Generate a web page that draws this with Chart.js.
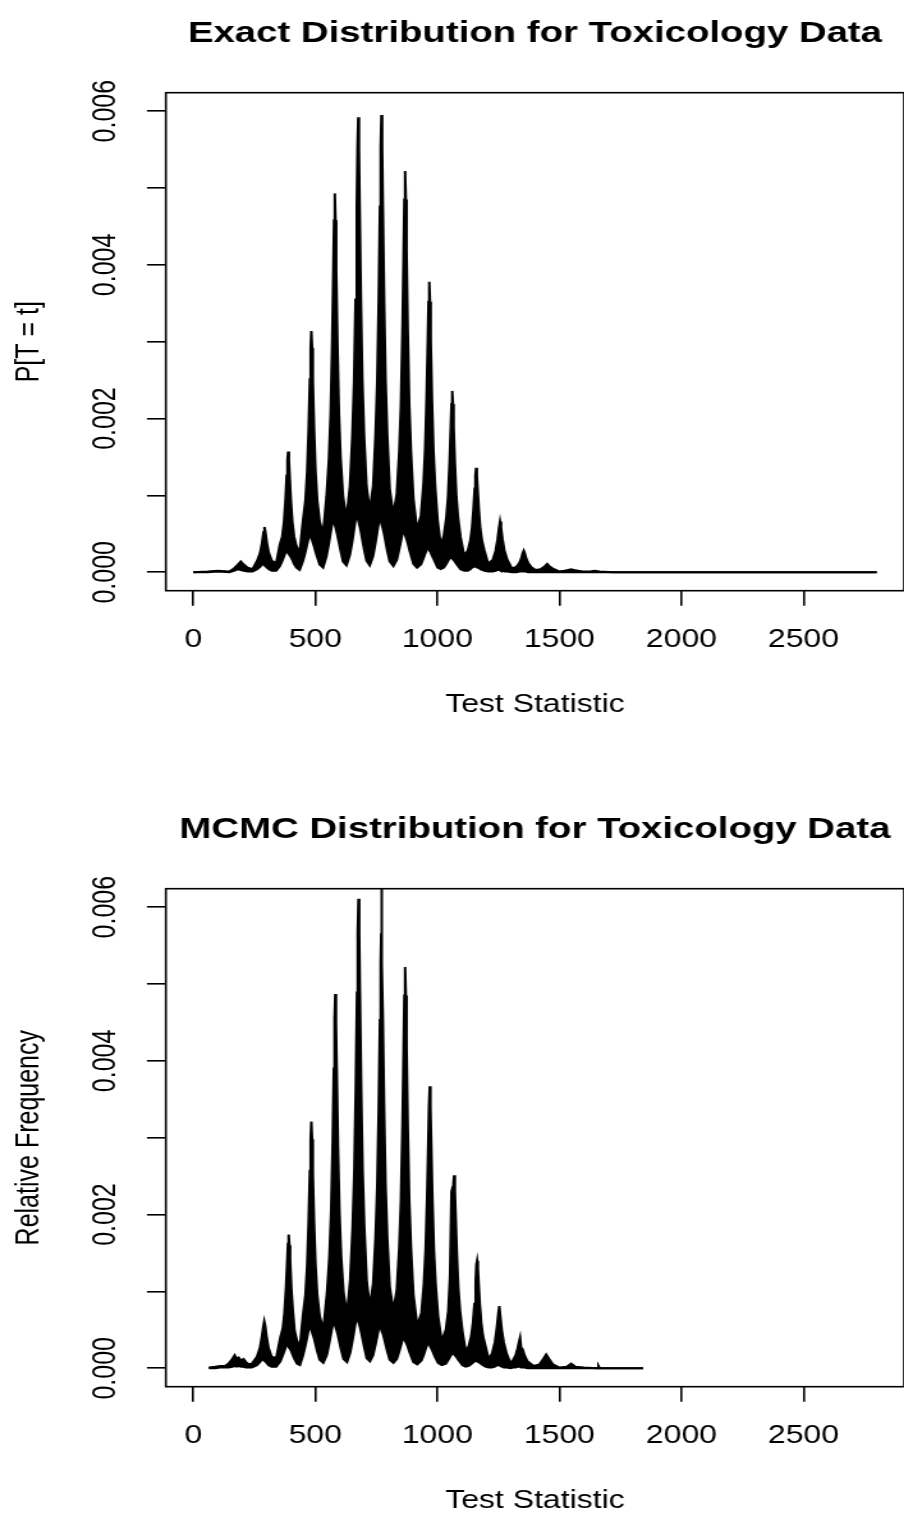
<!DOCTYPE html>
<html>
<head>
<meta charset="utf-8">
<title>Toxicology Data</title>
<script src="https://cdn.jsdelivr.net/npm/chart.js@4.4.1/dist/chart.umd.min.js"></script>
<style>
  html, body { margin: 0; padding: 0; background: #fff; overflow: hidden; }
  body { width: 904px; height: 1516px; position: relative; }
  /* the reference is stretched sideways, so each panel is drawn narrow and widened */
  .panel { position: absolute; left: 0; width: 707px; height: 796px; transform: scaleX(1.2787); transform-origin: 0 0; }
</style>
</head>
<body>
<div class="panel" style="top:0"><canvas id="exactChart" width="707" height="796"></canvas></div>
<div class="panel" style="top:796px"><canvas id="mcmcChart" width="707" height="796"></canvas></div>

<script>
// Axes
const xTickValues = [0, 500, 1000, 1500, 2000, 2500];
const xTickLabels = ['0', '500', '1000', '1500', '2000', '2500'];
const yTickValues = [0, 0.001, 0.002, 0.003, 0.004, 0.005, 0.006];
const yTickLabels = ['0.000', '', '0.002', '', '0.004', '', '0.006'];

// Exact distribution: test statistic, top and bottom of the dense band
const exactT = [
  0, 60, 100, 148,
  167, 183, 195, 207, 223, 243,
  262, 274, 282, 288, 292, 296, 302, 310, 322, 340,
  355, 365, 372, 378, 383, 386, 389, 392, 395, 400, 406, 413, 423, 436,
  450, 460, 467, 473, 478, 481, 484, 487, 490, 495, 501, 508, 518, 532,
  546, 556, 563, 569, 574, 577, 580, 583, 586, 591, 597, 604, 614, 628,
  642, 652, 659, 665, 670, 673, 676, 679, 682, 687, 693, 700, 710, 723,
  737, 747, 754, 760, 765, 768, 771, 774, 777, 782, 788, 795, 805, 820,
  834, 844, 851, 857, 862, 865, 868, 871, 874, 879, 885, 892, 902, 917,
  933, 943, 950, 956, 961, 964, 967, 970, 973, 978, 984, 991, 1001, 1014,
  1027, 1037, 1044, 1050, 1055, 1058, 1061, 1064, 1067, 1072, 1078, 1085, 1095, 1110,
  1125, 1135, 1142, 1148, 1153, 1156, 1159, 1162, 1165, 1170, 1176, 1183, 1193, 1208,
  1227, 1239, 1247, 1253, 1257, 1261, 1267, 1275, 1287, 1305,
  1324, 1336, 1344, 1350, 1354, 1358, 1364, 1372, 1384, 1402,
  1422, 1438, 1450, 1462, 1478, 1499,
  1520, 1536, 1548, 1560, 1576, 1596,
  1625, 1645, 1665, 1720, 1800, 2800
];
const exactHigh = [
  0, 0.00001, 0.00002, 0.00001,
  0.00005, 0.0001, 0.00014, 0.0001, 0.00006, 0.00004,
  0.00015, 0.00025, 0.00038, 0.00052, 0.00059, 0.00052, 0.00038, 0.00025, 0.00015, 0.00012,
  0.00036, 0.00047, 0.00066, 0.00094, 0.00126, 0.00146, 0.00157, 0.00146, 0.00126, 0.00094, 0.00066, 0.00047, 0.00034, 0.00025,
  0.00068, 0.00094, 0.00132, 0.00188, 0.00251, 0.00292, 0.00314, 0.00292, 0.00251, 0.00188, 0.00132, 0.00094, 0.00066, 0.0005,
  0.00098, 0.00148, 0.00207, 0.00296, 0.00394, 0.00458, 0.00493, 0.00458, 0.00394, 0.00296, 0.00207, 0.00148, 0.00098, 0.0007,
  0.00112, 0.00178, 0.00249, 0.00355, 0.00474, 0.00551, 0.00592, 0.00551, 0.00474, 0.00355, 0.00249, 0.00178, 0.00112, 0.0008,
  0.00112, 0.00179, 0.0025, 0.00357, 0.00476, 0.00553, 0.00595, 0.00553, 0.00476, 0.00357, 0.0025, 0.00179, 0.00108, 0.00075,
  0.00102, 0.00157, 0.00219, 0.00313, 0.00418, 0.00485, 0.00522, 0.00485, 0.00418, 0.00313, 0.00219, 0.00157, 0.00096, 0.00055,
  0.00074, 0.00113, 0.00159, 0.00227, 0.00302, 0.00352, 0.00378, 0.00352, 0.00302, 0.00227, 0.00159, 0.00113, 0.00068, 0.00035,
  0.00048, 0.00071, 0.00099, 0.00142, 0.00189, 0.00219, 0.00236, 0.00219, 0.00189, 0.00142, 0.00099, 0.00071, 0.00046, 0.00022,
  0.00028, 0.00041, 0.00057, 0.00082, 0.00109, 0.00126, 0.00136, 0.00126, 0.00109, 0.00082, 0.00057, 0.00041, 0.00028, 0.00011,
  0.00016, 0.00028, 0.00043, 0.00058, 0.00066, 0.00058, 0.00043, 0.00028, 0.00016, 0.00005,
  0.00007, 0.00012, 0.00018, 0.00025, 0.00028, 0.00025, 0.00018, 0.00012, 0.00007, 0.00003,
  0.00004, 0.00007, 0.00011, 0.00007, 0.00004, 0.00001,
  0.00002, 0.00003, 0.00004, 0.00003, 0.00002, 0.00001,
  0.00001, 0.00002, 0.00001, 0, 0, 0
];
const exactLow = [
  0, 0, 0.00001, 0,
  0.00002, 0.00004, 0.00003, 0.00002, 0.00001, 0.00001,
  0.00004, 0.00007, 0.0001, 0.0001, 0.00009, 0.00008, 0.00006, 0.00004, 0.00002, 0.00002,
  0.00008, 0.00015, 0.00021, 0.00026, 0.00027, 0.00027, 0.00025, 0.00024, 0.00022, 0.0002, 0.00016, 0.00011, 0.00006, 0.00003,
  0.00015, 0.00027, 0.00037, 0.00045, 0.00048, 0.00047, 0.00044, 0.00042, 0.00039, 0.00034, 0.00027, 0.0002, 0.0001, 0.00006,
  0.00021, 0.00038, 0.00052, 0.00063, 0.00068, 0.00066, 0.00062, 0.00059, 0.00055, 0.00048, 0.00039, 0.00028, 0.00014, 0.00009,
  0.00023, 0.00041, 0.00056, 0.00069, 0.00074, 0.00071, 0.00068, 0.00064, 0.0006, 0.00053, 0.00042, 0.0003, 0.00015, 0.00009,
  0.00021, 0.00039, 0.00053, 0.00065, 0.0007, 0.00067, 0.00064, 0.0006, 0.00057, 0.0005, 0.0004, 0.00028, 0.00014, 0.00008,
  0.00016, 0.0003, 0.00041, 0.0005, 0.00053, 0.00051, 0.00049, 0.00046, 0.00043, 0.00038, 0.0003, 0.00022, 0.00011, 0.00006,
  0.0001, 0.00018, 0.00024, 0.00029, 0.00031, 0.0003, 0.00029, 0.00027, 0.00026, 0.00022, 0.00018, 0.00013, 0.00006, 0.00004,
  0.00006, 0.00011, 0.00015, 0.00018, 0.00019, 0.00019, 0.00018, 0.00017, 0.00016, 0.00014, 0.00011, 0.00008, 0.00004, 0.00002,
  0.00002, 0.00004, 0.00006, 0.00007, 0.00008, 0.00008, 0.00007, 0.00007, 0.00006, 0.00006, 0.00004, 0.00003, 0.00002, 0.00001,
  0.00001, 0.00002, 0.00003, 0.00003, 0.00003, 0.00002, 0.00002, 0.00001, 0.00001, 0,
  0, 0.00001, 0.00001, 0.00001, 0.00001, 0.00001, 0.00001, 0, 0, 0,
  0, 0, 0, 0, 0, 0,
  0, 0, 0, 0, 0, 0,
  0, 0, 0, 0, 0, 0
];

// MCMC distribution: test statistic, top and bottom of the dense band
const mcmcT = [
  64, 90, 110, 130, 145, 160, 170, 178, 186, 196, 206, 216, 228, 240,
  261, 273, 281, 287, 291, 295, 301, 309, 321, 340,
  357, 367, 374, 380, 385, 388, 391, 394, 397, 402, 408, 415, 425, 437,
  450, 460, 467, 473, 478, 481, 484, 487, 490, 495, 501, 508, 518, 533,
  548, 558, 565, 571, 576, 579, 582, 585, 588, 593, 599, 606, 616, 630,
  643, 653, 660, 666, 671, 674, 677, 680, 683, 688, 694, 701, 711, 724,
  737, 747, 754, 760, 765, 768, 770, 771, 772, 774, 777, 782, 788, 795, 805, 820,
  834, 844, 851, 857, 862, 865, 868, 871, 874, 879, 885, 892, 902, 918,
  935, 945, 952, 958, 963, 966, 969, 972, 975, 980, 986, 993, 1003, 1018,
  1035, 1045, 1052, 1058, 1063, 1066, 1069, 1072, 1075, 1080, 1086, 1093, 1103, 1116,
  1129, 1139, 1146, 1152, 1157, 1160, 1163, 1166, 1169, 1174, 1180, 1187, 1197, 1210,
  1224, 1236, 1244, 1250, 1254, 1258, 1264, 1272, 1284, 1300,
  1309, 1321, 1329, 1335, 1339, 1343, 1349, 1357, 1369, 1395,
  1418, 1434, 1446, 1458, 1474, 1500,
  1530, 1548, 1566, 1600, 1655, 1660, 1665, 1750, 1843
];
const mcmcHigh = [
  0.00001, 0.00002, 0.00003, 0.00003, 0.00006, 0.00012, 0.00017, 0.00012, 0.00014, 0.0001, 0.00012, 0.00008, 0.00005, 0.00006,
  0.00015, 0.00026, 0.0004, 0.00054, 0.00061, 0.00055, 0.0004, 0.00026, 0.00015, 0.00013,
  0.0004, 0.00052, 0.00073, 0.00104, 0.00139, 0.00162, 0.00174, 0.0016, 0.00142, 0.00104, 0.00075, 0.0005, 0.00036, 0.00028,
  0.0007, 0.00096, 0.00135, 0.00193, 0.00257, 0.00298, 0.00321, 0.00298, 0.00255, 0.0019, 0.00135, 0.00096, 0.00068, 0.0005,
  0.00098, 0.00146, 0.00205, 0.00292, 0.0039, 0.00455, 0.00487, 0.0045, 0.0039, 0.0029, 0.00205, 0.00146, 0.00098, 0.0007,
  0.00115, 0.00183, 0.00257, 0.00367, 0.00489, 0.00568, 0.00611, 0.00568, 0.00489, 0.00367, 0.00257, 0.00183, 0.00112, 0.0008,
  0.0011, 0.0017, 0.00238, 0.0034, 0.00453, 0.00526, 0.00566, 0.0064, 0.00566, 0.00526, 0.00453, 0.0034, 0.00238, 0.0017, 0.00106, 0.00075,
  0.00102, 0.00157, 0.00219, 0.00313, 0.00418, 0.00485, 0.00522, 0.00485, 0.00418, 0.00313, 0.00219, 0.00157, 0.00096, 0.00055,
  0.00072, 0.0011, 0.00154, 0.0022, 0.00294, 0.00341, 0.00367, 0.0034, 0.00294, 0.0022, 0.00154, 0.0011, 0.00068, 0.00035,
  0.0005, 0.00075, 0.0012, 0.0023, 0.00236, 0.0024, 0.00251, 0.0023, 0.002, 0.0015, 0.00105, 0.00075, 0.00048, 0.00022,
  0.00029, 0.00042, 0.00059, 0.00084, 0.00112, 0.00135, 0.0014, 0.0013, 0.00112, 0.00084, 0.00059, 0.00042, 0.00029, 0.00012,
  0.00019, 0.00034, 0.00053, 0.00071, 0.00081, 0.00068, 0.0005, 0.00034, 0.00019, 0.00006,
  0.0001, 0.00017, 0.00026, 0.00035, 0.0004, 0.00027, 0.00025, 0.00017, 0.00009, 0.00003,
  0.00005, 0.00012, 0.00018, 0.00012, 0.00005, 0.00001,
  0.00002, 0.00006, 0.00002, 0.00001, 0, 0.00003, 0, 0, 0
];
const mcmcLow = [
  0, 0, 0.00001, 0.00001, 0.00001, 0.00002, 0.00003, 0.00002, 0.00003, 0.00002, 0.00002, 0.00001, 0.00001, 0.00001,
  0.00004, 0.00008, 0.00011, 0.00012, 0.0001, 0.00009, 0.00007, 0.00004, 0.00002, 0.00002,
  0.00009, 0.00017, 0.00023, 0.00029, 0.0003, 0.00029, 0.00028, 0.00026, 0.00025, 0.00022, 0.00017, 0.00012, 0.00006, 0.00004,
  0.00017, 0.0003, 0.00041, 0.00051, 0.00054, 0.00052, 0.0005, 0.00047, 0.00044, 0.00039, 0.00031, 0.00022, 0.00011, 0.00007,
  0.00018, 0.00034, 0.00046, 0.00056, 0.0006, 0.00058, 0.00055, 0.00052, 0.00049, 0.00043, 0.00034, 0.00024, 0.00012, 0.00008,
  0.0002, 0.00037, 0.0005, 0.00062, 0.00066, 0.00064, 0.0006, 0.00057, 0.00054, 0.00047, 0.00038, 0.00027, 0.00013, 0.00009,
  0.00017, 0.00031, 0.00042, 0.00052, 0.00055, 0.00053, 0.00051, 0.0005, 0.0005, 0.00048, 0.00045, 0.00039, 0.00031, 0.00022, 0.00011, 0.00007,
  0.00012, 0.00022, 0.0003, 0.00037, 0.00039, 0.00038, 0.00036, 0.00034, 0.00032, 0.00028, 0.00022, 0.00016, 0.00008, 0.00005,
  0.0001, 0.00018, 0.00025, 0.0003, 0.00032, 0.00031, 0.0003, 0.00028, 0.00026, 0.00023, 0.00018, 0.00013, 0.00007, 0.00004,
  0.00006, 0.00011, 0.00015, 0.00018, 0.0002, 0.00019, 0.00018, 0.00017, 0.00016, 0.00014, 0.00011, 0.00008, 0.00004, 0.00002,
  0.00003, 0.000055, 0.000075, 0.00009, 0.0001, 0.000095, 0.00009, 0.000085, 0.00008, 0.00007, 0.000055, 0.00004, 0.00002, 0.00001,
  0.00001, 0.00002, 0.00004, 0.00004, 0.00004, 0.00003, 0.00002, 0.00001, 0.00001, 0,
  0.00001, 0.00001, 0.00002, 0.00002, 0.00002, 0.00001, 0.00001, 0.00001, 0, 0,
  0, 0, 0, 0, 0, 0,
  0, 0, 0, 0, 0, 0, 0, 0, 0
];

Chart.defaults.font.family = "'Liberation Sans', Arial, Helvetica, sans-serif";
Chart.defaults.color = '#000';

// Cadre du graphique, comme en R
const boxPlugin = {
  id: 'plotBox',
  afterDraw(chart) {
    const { ctx, chartArea: a } = chart;
    ctx.save();
    ctx.strokeStyle = '#000';
    ctx.lineWidth = 1.6;
    ctx.strokeRect(a.left, a.top, a.right - a.left, a.bottom - a.top);
    ctx.restore();
  }
};

function makeChart(canvasId, titleText, yTitle, tValues, highValues, lowValues) {
  const ctx = document.getElementById(canvasId).getContext('2d');
  return new Chart(ctx, {
    type: 'line',
    data: {
      datasets: [
        {
          data: tValues.map((t, i) => ({ x: t, y: highValues[i] })),
          borderColor: '#000',
          backgroundColor: '#000',
          borderWidth: 2,
          pointRadius: 0,
          tension: 0,
          fill: '+1'
        },
        {
          data: tValues.map((t, i) => ({ x: t, y: lowValues[i] })),
          borderColor: '#000',
          borderWidth: 2,
          pointRadius: 0,
          tension: 0,
          fill: false
        }
      ]
    },
    options: {
      responsive: false,
      animation: false,
      devicePixelRatio: 1,
      events: [],
      layout: { padding: 0 },
      plugins: {
        legend: { display: false },
        tooltip: { enabled: false },
        title: {
          display: true,
          text: titleText,
          fullSize: false,
          font: { size: 30, weight: 'bold' },
          color: '#000',
          padding: { top: 15.8, bottom: 40.9 }
        }
      },
      scales: {
        x: {
          type: 'linear',
          min: -112,
          max: 2912,
          afterBuildTicks: scale => { scale.ticks = xTickValues.map(v => ({ value: v })); },
          afterFit: scale => { scale.height = 205.3; },
          ticks: {
            autoSkip: false,
            maxRotation: 0,
            padding: 19,
            font: { size: 25 },
            color: '#000',
            callback: (v, i) => xTickLabels[i]
          },
          grid: { drawOnChartArea: false, drawTicks: true, tickLength: 15, color: '#000', lineWidth: 1.6 },
          border: { display: false },
          title: { display: true, text: 'Test Statistic', font: { size: 25 }, color: '#000', padding: { top: 0, bottom: 76 } }
        },
        y: {
          type: 'linear',
          min: -0.00024,
          max: 0.00624,
          afterBuildTicks: scale => { scale.ticks = yTickValues.map(v => ({ value: v })); },
          afterFit: scale => { scale.width = 129.7; },
          ticks: {
            autoSkip: false,
            minRotation: 90,
            maxRotation: 90,
            crossAlign: 'center',
            padding: 1,
            font: { size: 25 },
            color: '#000',
            callback: (v, i) => yTickLabels[i]
          },
          grid: { drawOnChartArea: false, drawTicks: true, tickLength: 14.8, color: '#000', lineWidth: 1.6 },
          border: { display: false },
          title: { display: true, text: yTitle, font: { size: 25 }, color: '#000', padding: { top: 8.5, bottom: 0 } }
        }
      }
    },
    plugins: [boxPlugin]
  });
}

document.addEventListener('DOMContentLoaded', () => {
  makeChart('exactChart', 'Exact Distribution for Toxicology Data', 'P[T = t]', exactT, exactHigh, exactLow);
  makeChart('mcmcChart', 'MCMC Distribution for Toxicology Data', 'Relative Frequency', mcmcT, mcmcHigh, mcmcLow);
});
</script>
</body>
</html>
